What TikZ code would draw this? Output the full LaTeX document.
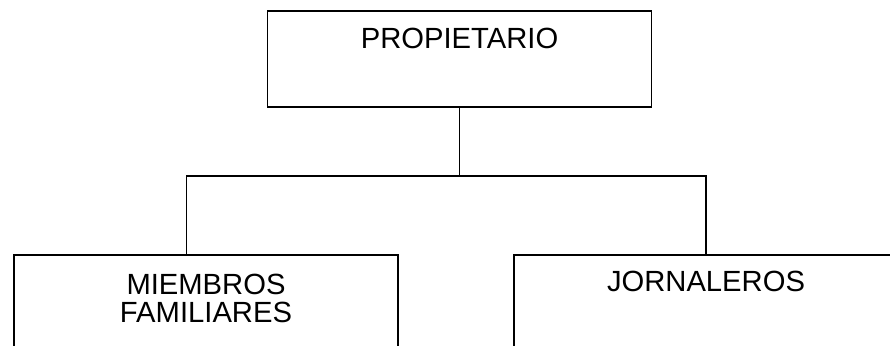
\documentclass[tikz,border=0pt]{standalone}
\usepackage{fontspec}
\setmainfont{Liberation Sans}
\usetikzlibrary{positioning}

\begin{document}
\begin{tikzpicture}[x=1pt, y=-1pt, line width=1.8pt,
    every node/.style={font=\fontsize{29.2}{24.5}\selectfont},
    orgbox/.style={rectangle, draw, inner sep=0pt, minimum width=384pt}]
      \useasboundingbox (0,0) rectangle (890,345);
      \clip (0,0) rectangle (890,345);

      \node[orgbox, anchor=north, minimum height=96pt, text height=38pt, text depth=58pt] (prop) at (459.5,10) {PROPIETARIO};
      \node[orgbox, minimum height=200pt, text height=40pt, text depth=160pt] (fam) [below=146pt of prop, xshift=-253.5pt]
        {\begin{tabular}[t]{@{}c@{}}MIEMBROS\\FAMILIARES\end{tabular}};
      \node[orgbox, minimum height=200pt, text height=37pt, text depth=163pt] (jor) [below=146pt of prop, xshift=246.5pt] {JORNALEROS};

      \coordinate (hub) at (prop.south |- 0,176);
      \draw (prop.south) -- (hub);
      \draw (hub) -| ([xshift=-19.5pt]fam.north);
      \draw (hub) -| (jor.north);
    \end{tikzpicture}
\end{document}
